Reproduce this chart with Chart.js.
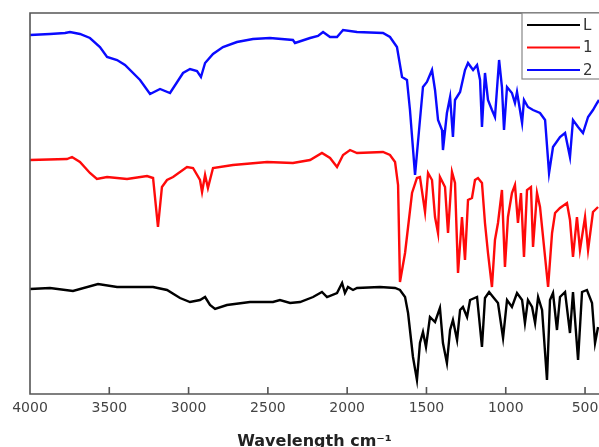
<!DOCTYPE html>
<html>
<head>
<meta charset="utf-8">
<script src="https://cdn.jsdelivr.net/npm/chart.js@4.4.1/dist/chart.umd.min.js"></script>
<style>
  html, body { margin: 0; padding: 0; background: #fff; }
  #wrap { width: 599px; height: 447px; position: relative; }
</style>
</head>
<body>
<div id="wrap"><canvas id="ir-chart"></canvas></div>
<script>
// FTIR spectra, stacked (transmittance in arbitrary offset units)
const xTicks = [4000, 3500, 3000, 2500, 2000, 1500, 1000, 500];
const seriesNames = ['L', '1', '2'];
const seriesColors = ['#000000', '#ff0a0a', '#0a0aff'];

const waveL = [4000, 3874, 3729, 3571, 3451, 3224, 3136, 3054, 2991, 2928, 2896, 2865, 2833, 2758, 2613, 2468, 2424, 2360, 2297,
  2215, 2159, 2127, 2064, 2032, 2014, 1995, 1963, 1938, 1793, 1698, 1667, 1635, 1616, 1585, 1560, 1541, 1522, 1503, 1478, 1446,
  1415, 1396, 1371, 1351, 1333, 1307, 1288, 1270, 1244, 1225, 1181, 1150, 1131, 1105, 1080, 1049, 1017, 992, 961, 929,
  897, 879, 860, 834, 815, 796, 771, 740, 721, 702, 677, 658, 626, 595, 576, 544, 519, 488, 456, 437, 418];
const transL = [105, 106, 103, 110, 107, 107, 104, 96, 92, 94, 97, 89, 85, 89, 92, 92, 94, 91, 92,
  97, 102, 97, 101, 111, 101, 107, 104, 106, 107, 106, 104, 97, 81, 37, 14, 51, 62, 47, 77, 72,
  86, 51, 31, 64, 74, 54, 84, 87, 77, 94, 97, 47, 96, 102, 97, 91, 56, 94, 87, 101,
  94, 71, 94, 87, 71, 97, 84, 14, 94, 101, 64, 97, 102, 61, 102, 34, 102, 104, 91, 51, 67];

const wave1 = [4000, 3767, 3735, 3685, 3622, 3578, 3514, 3388, 3262, 3224, 3193, 3168, 3136, 3098, 3010, 2972, 2928, 2915, 2896,
  2878, 2846, 2720, 2505, 2342, 2234, 2159, 2108, 2064, 2026, 1982, 1938, 1774, 1730, 1698, 1679, 1667, 1635, 1591, 1560,
  1541, 1509, 1490, 1465, 1446, 1427, 1415, 1383, 1364, 1339, 1320, 1301, 1276, 1257, 1238, 1213, 1194, 1175, 1150, 1131,
  1112, 1087, 1068, 1049, 1024, 1005, 986, 961, 942, 923, 904, 885, 866, 841, 828, 803, 784, 752, 733, 708, 689, 658,
  614, 595, 576, 551, 532, 500, 481, 450, 418];
const trans1 = [234, 235, 237, 232, 221, 215, 217, 215, 218, 216, 167, 207, 214, 217, 227, 226, 214, 202, 219,
  206, 226, 229, 232, 231, 234, 241, 236, 227, 239, 244, 241, 242, 239, 232, 209, 112, 141, 201, 216,
  217, 182, 221, 214, 177, 161, 217, 207, 161, 222, 211, 121, 177, 134, 194, 196, 214, 216, 211, 171,
  141, 107, 154, 171, 204, 127, 177, 201, 209, 171, 201, 137, 204, 207, 147, 201, 187, 137, 107, 161, 181, 186,
  191, 174, 137, 177, 144, 177, 144, 182, 187];

const wave2 = [4000, 3874, 3779, 3748, 3685, 3622, 3559, 3514, 3451, 3401, 3306, 3243, 3180, 3117, 3035, 2991, 2947, 2922, 2896,
  2846, 2783, 2695, 2594, 2487, 2342, 2329, 2234, 2184, 2152, 2108, 2064, 2026, 1938, 1774, 1730, 1686, 1654, 1623, 1604,
  1572, 1541, 1522, 1497, 1465, 1446, 1427, 1402, 1396, 1371, 1351, 1333, 1320, 1288, 1257, 1238, 1206, 1181, 1162, 1150,
  1131, 1112, 1087, 1068, 1042, 1024, 1011, 992, 961, 942, 929, 897, 885, 860, 828, 784, 752, 727, 702, 658, 626,
  595, 576, 544, 513, 481, 450, 424, 412];
const trans2 = [359, 360, 361, 362, 360, 356, 347, 337, 334, 329, 314, 300, 305, 301, 321, 325, 323, 317, 331,
  340, 347, 352, 355, 356, 354, 351, 356, 358, 362, 357, 357, 364, 362, 361, 357, 347, 317, 314, 284,
  219, 274, 307, 312, 324, 304, 274, 264, 244, 281, 297, 257, 294, 302, 324, 331, 324, 329, 314, 267,
  321, 294, 284, 277, 334, 307, 264, 307, 301, 291, 302, 271, 294, 287, 284, 281, 274, 221, 247, 257, 261,
  237, 274, 267, 261, 277, 284, 291, 294];

const seriesWaves = [waveL, wave1, wave2];
const seriesTrans = [transL, trans1, trans2];

/**
 * Plot frame (top, left, bottom) with inward tick marks, then a boxed legend.
 */
const framePlugin = {
  id: 'irFrame',
  afterDraw(chart) {
    const { ctx, chartArea: a } = chart;
    const x = chart.scales.x;
    ctx.save();
    ctx.strokeStyle = '#555';
    ctx.lineWidth = 1.6;
    ctx.beginPath();
    ctx.moveTo(a.right + 2, a.top);
    ctx.lineTo(a.left, a.top);
    ctx.lineTo(a.left, a.bottom);
    ctx.lineTo(a.right + 2, a.bottom);
    for (const v of xTicks) {
      const px = x.getPixelForValue(v);
      ctx.moveTo(px, a.bottom);
      ctx.lineTo(px, a.bottom - 7);
    }
    ctx.stroke();

    // legend box
    const left = a.right - 77;
    ctx.fillStyle = '#fff';
    ctx.fillRect(left, a.top, 80, 66);
    ctx.strokeStyle = '#888';
    ctx.lineWidth = 1.2;
    ctx.strokeRect(left, a.top, 80, 66);
    ctx.font = '15px "DejaVu Sans", sans-serif';
    ctx.textBaseline = 'middle';
    seriesNames.forEach((name, i) => {
      const y = a.top + 12 + i * 22.5;
      ctx.strokeStyle = seriesColors[i];
      ctx.lineWidth = 2.2;
      ctx.beginPath();
      ctx.moveTo(left + 5, y);
      ctx.lineTo(left + 58, y);
      ctx.stroke();
      ctx.fillStyle = '#333';
      ctx.fillText(name, left + 61, y + 1);
    });
    ctx.restore();
  }
};

const datasets = seriesNames.map((name, i) => ({
  label: name,
  data: seriesWaves[i].map((w, k) => ({ x: w, y: seriesTrans[i][k] })),
  borderColor: seriesColors[i],
  borderWidth: 2.4,
  pointRadius: 0,
  tension: 0,
  fill: false,
  order: 3 - i
}));

new Chart(document.getElementById('ir-chart'), {
  type: 'line',
  data: { datasets },
  options: {
    responsive: true,
    maintainAspectRatio: false,
    animation: false,
    layout: { padding: { left: 30, top: 13, right: 0, bottom: 0 } },
    plugins: {
      legend: { display: false },
      tooltip: { enabled: false }
    },
    scales: {
      x: {
        type: 'linear',
        reverse: true,
        min: 412,
        max: 4000,
        afterBuildTicks: scale => { scale.ticks = xTicks.map(v => ({ value: v })); },
        afterFit: scale => {
          scale.height = 53;
          scale.paddingLeft = 0;
          scale.paddingRight = 0;
        },
        grid: { display: false, drawTicks: false },
        border: { display: false },
        ticks: {
          autoSkip: false,
          maxRotation: 0,
          padding: 6,
          color: '#444',
          font: { family: 'DejaVu Sans', size: 14 },
          callback: v => String(v)
        },
        title: {
          display: true,
          text: 'Wavelength cm⁻¹',
          color: '#222',
          padding: { top: 0, bottom: 0 },
          font: { family: 'DejaVu Sans', size: 16, weight: 'bold', lineHeight: 0.6 }
        }
      },
      y: {
        display: false,
        min: 0,
        max: 381
      }
    }
  },
  plugins: [framePlugin]
});
</script>
</body>
</html>
